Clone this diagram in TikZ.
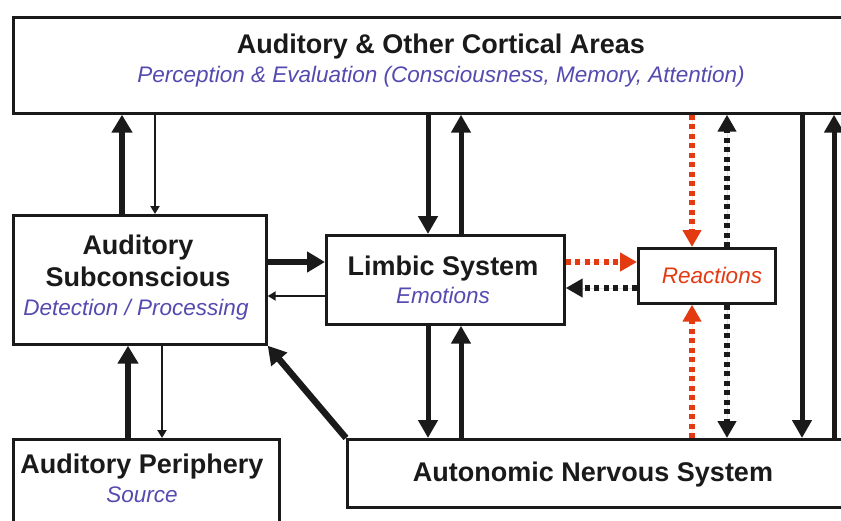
\documentclass[tikz,border=0pt]{standalone}
\usepackage{fontspec}
\setmainfont{Liberation Sans}
\usetikzlibrary{arrows.meta}
\definecolor{ink}{RGB}{26,26,26}
\definecolor{labelblue}{RGB}{84,74,176}
\definecolor{reactred}{RGB}{228,58,18}
\begin{document}
\begin{tikzpicture}[x=1pt,y=-1pt,
  box/.style={draw=ink, line width=2.7pt, fill=white, inner sep=0pt, anchor=north west},
  title/.style={font=\bfseries\fontsize{27}{30}\selectfont, text=ink, anchor=base, inner sep=0pt},
  sub/.style={font=\itshape\fontsize{22.5}{26}\selectfont, text=labelblue, anchor=base, inner sep=0pt},
  heavy/.style={draw=ink, line width=6.5pt, -{Triangle[length=18pt,width=20pt]}},
  medium/.style={draw=ink, line width=5pt, -{Triangle[length=18pt,width=19pt]}},
  light/.style={draw=ink, line width=2pt, -{Triangle[length=8pt,width=9pt]}},
  dots/.style={line width=6pt, dash pattern=on 5pt off 4.5pt, -{Triangle[length=17pt,width=18pt]}},
]
\useasboundingbox (0,0) rectangle (841,520);

% boxes (some run past the page edge)
\node[box, minimum width=900pt, minimum height=96pt] (top) at (12,16) {};
\node[box, minimum width=253pt, minimum height=129pt] (as) at (12,214) {};
\node[box, minimum width=238pt, minimum height=89pt] (lim) at (325,234) {};
\node[box, minimum width=137pt, minimum height=55pt] (react) at (637,247) {};
\node[box, minimum width=266pt, minimum height=150pt] (per) at (12,438) {};
\node[box, minimum width=560pt, minimum height=68pt] (ans) at (346,438) {};

% texts
\node[title] (topT) at (441,53) {Auditory \& Other Cortical Areas};
\node[sub] (topS) at (441,82) {Perception \& Evaluation (Consciousness, Memory, Attention)};
\node[title] (asT1) at (138,254) {Auditory};
\node[title] (asT2) at (138,286) {Subconscious};
\node[sub] (asS) at (136,315) {Detection / Processing};
\node[title] (limT) at (443,275) {Limbic System};
\node[sub] (limS) at (443,303) {Emotions};
\node[sub, text=reactred] (reactT) at (712,283) {Reactions};
\node[title] (perT) at (142,473) {Auditory Periphery};
\node[sub] (perS) at (142,502) {Source};
\node[title] (ansT) at (593,481) {Autonomic Nervous System};

% arrow columns and rows
\coordinate (a1) at (122,0);
\coordinate (a2) at (155,0);
\coordinate (b1) at (128,0);
\coordinate (b2) at (162,0);
\coordinate (l1) at (428,0);
\coordinate (l2) at (461,0);
\coordinate (r1) at (692,0);
\coordinate (r2) at (727,0);
\coordinate (s1) at (802,0);
\coordinate (s2) at (834,0);
\coordinate (h1) at (0,262);
\coordinate (h2) at (0,296);
\coordinate (h3) at (0,262);
\coordinate (h4) at (0,288);

% subconscious <-> cortex
\draw[heavy] (a1 |- as.north) -- (a1 |- top.south);
\draw[light] (a2 |- top.south) -- (a2 |- as.north);
% periphery <-> subconscious
\draw[heavy] (b1 |- per.north) -- (b1 |- as.south);
\draw[light] (b2 |- as.south) -- (b2 |- per.north);
% subconscious <-> limbic
\draw[heavy] (as.east |- h1) -- (lim.west |- h1);
\draw[light] (lim.west |- h2) -- (as.east |- h2);
% autonomic -> subconscious
\draw[heavy] (ans.north west) -- (as.south east);
% limbic <-> cortex and autonomic
\draw[medium] (l1 |- top.south) -- (l1 |- lim.north);
\draw[medium] (l2 |- lim.north) -- (l2 |- top.south);
\draw[medium] (l1 |- lim.south) -- (l1 |- ans.north);
\draw[medium] (l2 |- ans.north) -- (l2 |- lim.south);
% reactions
\draw[dots, draw=reactred, fill=reactred] (lim.east |- h3) -- (react.west |- h3);
\draw[dots, draw=ink, fill=ink] (react.west |- h4) -- (lim.east |- h4);
\draw[dots, draw=reactred, fill=reactred] (r1 |- top.south) -- (r1 |- react.north);
\draw[dots, draw=reactred, fill=reactred] (r1 |- ans.north) -- (r1 |- react.south);
\draw[dots, draw=ink, fill=ink] (r2 |- react.north) -- (r2 |- top.south);
\draw[dots, draw=ink, fill=ink] (r2 |- react.south) -- (r2 |- ans.north);
% cortex <-> autonomic
\draw[medium] (s1 |- top.south) -- (s1 |- ans.north);
\draw[medium] (s2 |- ans.north) -- (s2 |- top.south);
\end{tikzpicture}
\end{document}
